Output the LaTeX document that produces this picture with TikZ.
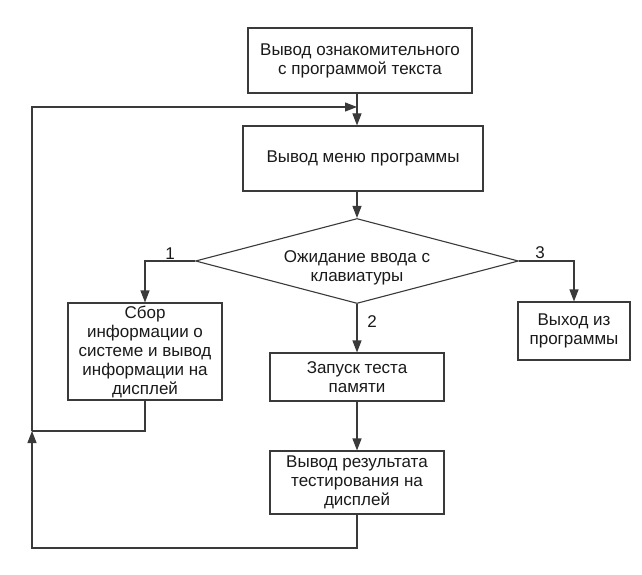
\documentclass[tikz,border=0pt]{standalone}
\usepackage{fontspec}
\setmainfont{Liberation Sans}
\usetikzlibrary{shapes.geometric,arrows.meta}
\definecolor{lc}{HTML}{3A3A3A}
\definecolor{tc}{HTML}{1A1A1A}
\begin{document}
\begin{tikzpicture}[x=1pt,y=-1pt,
  line/.style={draw=lc, line width=1.1pt},
  arr/.style={line, -{Triangle[length=12pt,width=9pt]}},
  box/.style={draw=lc, line width=1.1pt, fill=white, align=center,
    font=\fontsize{17}{19}\selectfont, text=tc, inner sep=2pt},
  lbl/.style={font=\fontsize{17}{19}\selectfont, text=tc, inner sep=0pt}]
\fill[white] (0,0) rectangle (642,575);
\useasboundingbox (0,0) rectangle (642,575);

\node[box, minimum width=224pt, minimum height=65pt] (b1) at (360,60.5)
  {Вывод ознакомительного\\с программой текста};
\node[box, minimum width=240pt, minimum height=65pt] (b2) at (363,158.5)
  {Вывод меню программы};
\node[diamond, draw=lc, line width=1.1pt, aspect=3.8, minimum width=323pt,
  minimum height=85pt, inner sep=-4pt, align=center,
  font=\fontsize{17}{19}\selectfont, text=tc] (d) at (357,261)
  {\rule{0pt}{26pt}Ожидание ввода с\\клавиатуры};
\node[box, minimum width=154pt, minimum height=97pt] (b3) at (145,351.5)
  {Сбор\\информации о\\системе и вывод\\информации на\\дисплей};
\node[box, minimum width=174pt, minimum height=48pt] (b4) at (357,377)
  {Запуск теста\\памяти};
\node[box, minimum width=112pt, minimum height=58pt] (b5) at (574,331)
  {Выход из\\программы};
\node[box, minimum width=174pt, minimum height=63pt] (b6) at (357,482.5)
  {Вывод результата\\тестирования на\\дисплей};

\coordinate (cL) at (32,431);
\coordinate (cT) at (32,107);
\coordinate (cB) at (32,548);

\draw[arr] (b1.south -| d.north) -- (b2.north -| d.north);
\draw[arr] (b2.south -| d.north) -- (d.north);
\draw[arr] (d.west) -| (b3.north);
\draw[arr] (d.south) -- (b4.north);
\draw[arr] (d.east) -| (b5.north);
\draw[arr] (b4.south) -- (b6.north);
\draw[line] (b3.south) |- (cL);
\draw[arr] (b6.south) |- (cB) -- (cL);
\draw[arr] (cL) -- (cT) -- (cT -| d.north);

\node[lbl] (l1) at (170,254) {1};
\node[lbl] (l2) at (372,322) {2};
\node[lbl] (l3) at (540,253) {3};
\end{tikzpicture}
\end{document}
